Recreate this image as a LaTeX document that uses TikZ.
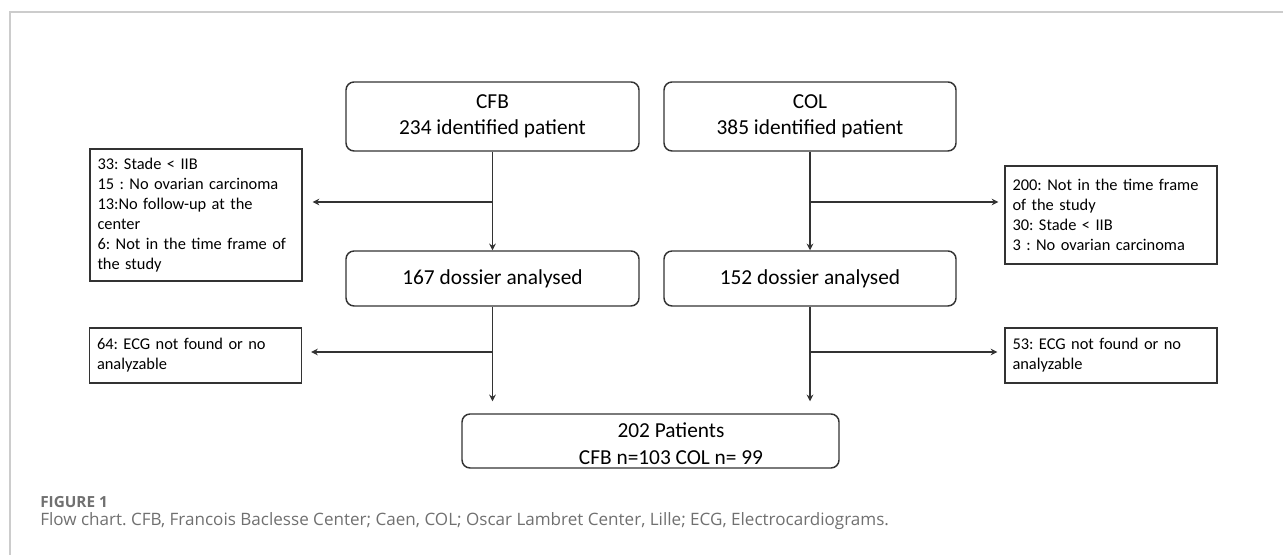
\documentclass[tikz,border=0pt]{standalone}
\usepackage{fontspec}
\setmainfont{Carlito}
\newfontfamily\capfont{Open Sans}
\usetikzlibrary{arrows.meta,calc}
\def\pxu{0.75pt}
\definecolor{framegray}{HTML}{CCCCCC}
\definecolor{linegray}{HTML}{333333}
\definecolor{capgray}{HTML}{707070}
\tikzset{
  rbox/.style={draw=linegray, line width=1.1pt, rounded corners=6pt, inner sep=0pt,
    font=\fontsize{16pt}{19.5pt}\selectfont, align=center},
  sbox/.style={draw=linegray, line width=1pt, inner xsep=7.5*\pxu, inner ysep=0pt,
    font=\fontsize{12.3pt}{15pt}\selectfont, align=left, text width=197*\pxu},
  arr/.style={draw=linegray, line width=0.9pt, -{Stealth[length=5pt,width=5pt]}},
}
\begin{document}
\frenchspacing
\begin{tikzpicture}[x=0.75pt,y=-0.75pt]
\useasboundingbox (0,0) rectangle (1283,555);
% frame
\coordinate (ftr) at (1283,12);
\coordinate (ftl) at (10,12);
\coordinate (fbl) at (10,555);
\draw[framegray, line width=1.1pt] (ftr) -- (ftl) -- (fbl);

% main boxes
\node[rbox, minimum width=293*\pxu, minimum height=69*\pxu] (cfb) at (492.5,116.5) {CFB\\234 identified patient};
\node[rbox, minimum width=292*\pxu, minimum height=69*\pxu] (col) at (810,116.5) {COL\\385 identified patient};
\node[rbox, minimum width=293*\pxu, minimum height=55*\pxu] (d1) at (492.5,278.5) {167 dossier analysed};
\node[rbox, minimum width=292*\pxu, minimum height=55*\pxu] (d2) at (810,278.5) {152 dossier analysed};
\node[rbox, minimum width=377*\pxu, minimum height=54*\pxu] (fin) at (650.5,441) {};
\node[font=\fontsize{16pt}{20pt}\selectfont, align=center] (fintxt) at (671,443.5) {202 Patients\\CFB n=103 COL n= 99};

% exclusion boxes
\node[sbox, minimum height=132*\pxu] (ex1) at (196,215) {33: Stade < IIB\\15 : No ovarian carcinoma\\13:No follow-up at the\\center\\6: Not in the time frame of\\the study};
\node[sbox, minimum height=98*\pxu] (ex2) at (1111,215) {200: Not in the time frame\\of the study\\30: Stade < IIB\\3 : No ovarian carcinoma};
\node[sbox, minimum height=55*\pxu] (ex3) at (195.5,355.5) {64: ECG not found or no\\analyzable};
\node[sbox, minimum height=55*\pxu] (ex4) at (1111,355.5) {53: ECG not found or no\\analyzable};

% connectors
\coordinate (b1) at (492.5,202);
\coordinate (b2) at (810,202);
\coordinate (b3) at (492.5,352);
\coordinate (b4) at (810,352);
\draw[arr] (cfb.south) -- (d1.north);
\draw[arr] (col.south) -- (d2.north);
\draw[arr, shorten >=10*\pxu] (b1) -- (b1 -| ex1.east);
\draw[arr, shorten >=6*\pxu] (b2) -- (b2 -| ex2.west);
\draw[arr, shorten >=12*\pxu] (d1.south) -- (d1.south |- fin.north);
\draw[arr, shorten >=12*\pxu] (d2.south) -- (d2.south |- fin.north);
\draw[arr, shorten >=9*\pxu] (b3) -- (b3 -| ex3.east);
\draw[arr, shorten >=7*\pxu] (b4) -- (b4 -| ex4.west);

% caption
\node[anchor=west, inner sep=0pt, text=capgray, font=\capfont\fontsize{11.5pt}{13pt}\selectfont\bfseries] (fig) at (40,502) {FIGURE 1};
\node[anchor=west, inner sep=0pt, text=capgray, font=\capfont\fontsize{12.8pt}{15pt}\selectfont] (cap) at (40,521) {Flow chart. CFB, Francois Baclesse Center; Caen, COL; Oscar Lambret Center, Lille; ECG, Electrocardiograms.};
\end{tikzpicture}
\end{document}
